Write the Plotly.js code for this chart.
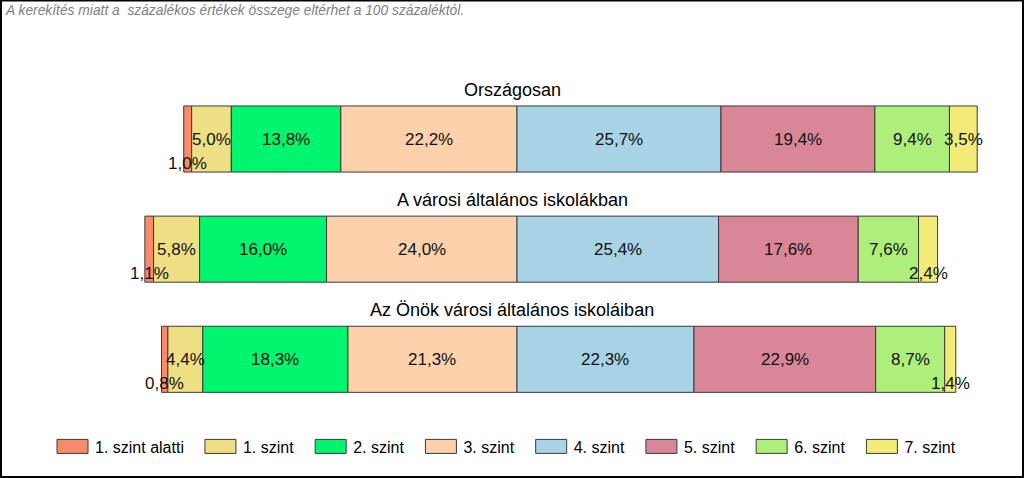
<!DOCTYPE html>
<html>
<head>
<meta charset="utf-8">
<script src="https://cdn.plot.ly/plotly-3.0.1.min.js"></script>
<style>
html,body{margin:0;padding:0;background:#fff;}
#chart{width:1024px;height:478px;}
</style>
</head>
<body>
<div id="chart"></div>
<script>
// ---- data ----
const categories = ['Országosan', 'A városi általános iskolákban', 'Az Önök városi általános iskoláiban'];
const levelNames = ['1. szint alatti', '1. szint', '2. szint', '3. szint', '4. szint', '5. szint', '6. szint', '7. szint'];
const szintAlatti = [1.0, 1.1, 0.8];
const szint1 = [5.0, 5.8, 4.4];
const szint2 = [13.8, 16.0, 18.3];
const szint3 = [22.2, 24.0, 21.3];
const szint4 = [25.7, 25.4, 22.3];
const szint5 = [19.4, 17.6, 22.9];
const szint6 = [9.4, 7.6, 8.7];
const szint7 = [3.5, 2.4, 1.4];
const noteText = 'A kerekítés miatt a  százalékos értékek összege eltérhet a 100 százaléktól.';

// ---- styles ----
const colors = ['#F98B6B', '#EEDF85', '#00F56E', '#FDD1AB', '#A8D3E4', '#D98697', '#AEEF7C', '#F2EB78'];
const FONT = 'Arial, "Liberation Sans", sans-serif';

const series = [szintAlatti, szint1, szint2, szint3, szint4, szint5, szint6, szint7];
const yIdx = categories.map((c, i) => i);
// left part (below 4. szint) goes to the negative side
const leftSum = yIdx.map(i => szintAlatti[i] + szint1[i] + szint2[i] + szint3[i]);

const traces = [];
const annotations = [];
const fmt = v => v.toFixed(1).replace('.', ',') + '%';

series.forEach((vals, k) => {
  const bases = yIdx.map(i => {
    let b = -leftSum[i];
    for (let j = 0; j < k; j++) b += series[j][i];
    return b;
  });
  traces.push({
    type: 'bar',
    orientation: 'h',
    name: levelNames[k],
    y: yIdx,
    x: vals,
    base: bases,
    width: 0.6,
    marker: {color: colors[k], line: {color: '#3a3a3a', width: 1}},
    hoverinfo: 'skip',
    textposition: 'none'
  });
  yIdx.forEach(i => {
    annotations.push({
      xref: 'x', yref: 'y',
      x: bases[i] + vals[i] / 2, y: i,
      text: fmt(vals[i]),
      showarrow: false,
      yshift: vals[i] < 3 ? -24 : 0,
      font: {family: FONT, size: 17, color: '#111'}
    });
  });
});

categories.forEach((c, i) => {
  annotations.push({
    xref: 'paper', yref: 'y', x: 0.5, y: i, yshift: 49,
    text: c, showarrow: false,
    font: {family: FONT, size: 18, color: '#000'}
  });
});

annotations.push({
  xref: 'paper', yref: 'paper', x: 0, y: 1, xshift: 3, yshift: -1,
  xanchor: 'left', yanchor: 'top',
  text: '<i>' + noteText + '</i>', showarrow: false,
  font: {family: FONT, size: 13.8, color: '#808080'}
});

const pxPerPct = 7.935, zeroPx = 517;
const layout = {
  width: 1024, height: 478,
  margin: {l: 0, r: 0, t: 0, b: 0, pad: 0},
  paper_bgcolor: '#fff', plot_bgcolor: '#fff',
  barmode: 'overlay',
  showlegend: true,
  xaxis: {range: [-zeroPx / pxPerPct, (1024 - zeroPx) / pxPerPct], showgrid: false, zeroline: false, showticklabels: false, fixedrange: true},
  yaxis: {range: [(478 - 139) / 110.15, -139 / 110.15], showgrid: false, zeroline: false, showticklabels: false, fixedrange: true},
  legend: {
    orientation: 'h', x: 41 / 1024, xanchor: 'left', y: 1 - 446.5 / 478, yanchor: 'middle',
    itemwidth: 44,
    font: {family: FONT, size: 16, color: '#000'}, traceorder: 'normal', bgcolor: 'rgba(0,0,0,0)'
  },
  annotations: annotations,
  shapes: [{
    type: 'rect', xref: 'paper', yref: 'paper',
    x0: 1 / 1024, x1: 1 - 1 / 1024, y0: 1 / 478, y1: 1 - 0.5 / 478,
    line: {color: '#000', width: 2}, fillcolor: 'rgba(0,0,0,0)', layer: 'above'
  }],
  font: {family: FONT}
};

Plotly.newPlot('chart', traces, layout, {staticPlot: true, displayModeBar: false}).then(function (gd) {
  // widen the legend swatches to rectangles like the original
  gd.querySelectorAll('.legend .traces').forEach(function (tr) {
    var txt = tr.querySelector('text.legendtext');
    var textX = txt ? parseFloat(txt.getAttribute('x')) : 54;
    tr.querySelectorAll('.legendpoints path').forEach(function (p) {
      p.setAttribute('d', 'M15.5,7H-15.5V-7H15.5Z');
      p.setAttribute('transform', 'translate(' + (textX - 22.5) + ',0)');
    });
  });
});
</script>
</body>
</html>
